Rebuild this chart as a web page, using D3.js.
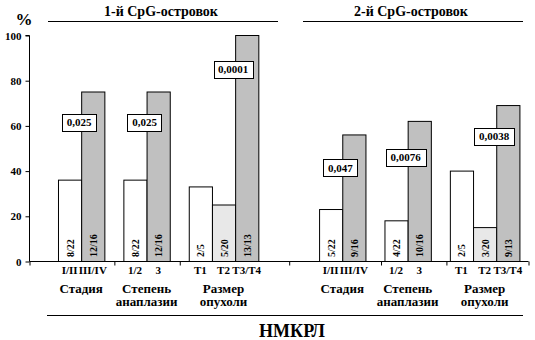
<!DOCTYPE html>
<html>
<head>
<meta charset="utf-8">
<script src="https://cdn.jsdelivr.net/npm/d3@7"></script>
<style>
  html, body { margin: 0; padding: 0; background: #fff; }
  svg { display: block; }
</style>
</head>
<body>
<svg id="chart" width="535" height="340"></svg>
<script>
// ---------- DATA ----------
const islands = ["1-й CpG-островок", "2-й CpG-островок"];
const groupNames = [["Стадия"], ["Степень", "анаплазии"], ["Размер", "опухоли"]];
const categories = [["I/II", "III/IV"], ["1/2", "3"], ["T1", "T2", "T3/T4"]];
const values1 = [[36, 75], [36, 75], [33, 25, 100]];
const values2 = [[23, 56], [18, 62], [40, 15, 69]];
const counts1 = [["8/22", "12/16"], ["8/22", "12/16"], ["2/5", "5/20", "13/13"]];
const counts2 = [["5/22", "9/16"], ["4/22", "10/16"], ["2/5", "3/20", "9/13"]];
const pvalues1 = ["0,025", "0,025", "0,0001"];
const pvalues2 = ["0,047", "0,0076", "0,0038"];
const pLabelAt1 = [61.5, 61.5, 84.7];   // value level of p-value box
const pLabelAt2 = [41.2, 45.8, 55.1];
const yTicks = [0, 20, 40, 60, 80, 100];
const yUnit = "%";
const bottomTitle = "НМКРЛ";

// ---------- LAYOUT ----------
const FONT = '"Liberation Serif", "Times New Roman", Times, serif';
const svg = d3.select("#chart");
const startPad = 1.25, gap = 0.82, halfGap = 2.62, endPad = 0.37;
const halves = [
  { title: islands[0], values: values1, counts: counts1, p: pvalues1, pAt: pLabelAt1 },
  { title: islands[1], values: values2, counts: counts2, p: pvalues2, pAt: pLabelAt2 }
];
const bars = [], groups = [];
let cur = startPad;
halves.forEach((h, hi) => {
  if (hi > 0) cur += halfGap;
  h.values.forEach((vals, gi) => {
    if (gi > 0) cur += gap;
    const g = { half: hi, gi, start: cur, n: vals.length, p: h.p[gi], pAt: h.pAt[gi] };
    vals.forEach((v, bi) => {
      bars.push({ half: hi, gi, bi, u: cur, value: v, count: h.counts[gi][bi], cat: categories[gi][bi], n: vals.length });
      cur += 1;
    });
    g.end = cur;
    groups.push(g);
  });
});
const totalUnits = cur + endPad;

const x = d3.scaleLinear().domain([0, totalUnits]).range([29, 528]);
const y = d3.scaleLinear().domain([0, 100]).range([261, 35]);
const bw = x(1) - x(0);

function fillFor(b) {
  if (b.bi === b.n - 1) return "#c0c0c0";
  if (b.bi === 1) return "#e8e8e8";
  return "#ffffff";
}
function txt(sel, size) {
  return sel.attr("font-family", FONT).attr("font-weight", "bold").attr("font-size", size).attr("fill", "#000");
}

// ---------- BARS ----------
svg.append("g").selectAll("rect").data(bars).join("rect")
  .attr("x", d => x(d.u) + 0.5)
  .attr("y", d => y(d.value) + 0.5)
  .attr("width", bw)
  .attr("height", d => y(0) - y(d.value))
  .attr("fill", fillFor)
  .attr("stroke", "#000")
  .attr("stroke-width", 1);

// counts inside bars (rotated)
txt(svg.append("g").selectAll("text").data(bars).join("text")
  .attr("transform", d => `translate(${x(d.u + 0.5) + 0.5},${y(0) - 4}) rotate(-90)`)
  .attr("dy", "0.35em")
  .attr("text-anchor", "start")
  .text(d => d.count), 10);

// ---------- AXES ----------
const yAxis = d3.axisLeft(y).tickValues(yTicks).tickSize(4).tickPadding(4).tickFormat(d3.format("d"));
const yg = svg.append("g").attr("transform", `translate(${x(0) + 0.5},0.5)`).call(yAxis);
yg.select(".domain").attr("d", `M-4,${y(100)}H0V${y(0)}`).attr("stroke", "#000");
yg.attr("font-family", null).attr("font-size", null);
txt(yg.selectAll("text"), 11);

// x axis: boundaries between groups
const boundaries = [0];
groups.forEach((g, i) => {
  if (i === 0) return;
  const prev = groups[i - 1];
  if (g.half !== prev.half || g.half === 0) boundaries.push((prev.end + g.start) / 2);
  else boundaries.push(g.start - 0.17);
});
boundaries.push(totalUnits);
const xAxis = d3.axisBottom(x).tickValues(boundaries).tickSize(4).tickFormat("");
const xg = svg.append("g").attr("transform", `translate(0.5,${y(0) + 0.5})`).call(xAxis);
xg.select(".domain").attr("d", `M${x(0)},0H${x(totalUnits)}`).attr("stroke", "#000");

// category labels
txt(svg.append("g").selectAll("text").data(bars).join("text")
  .attr("x", d => x(d.u + 0.5))
  .attr("y", 274)
  .attr("text-anchor", "middle")
  .text(d => d.cat), 11);

// group labels (one text per line)
const glines = [];
groups.forEach(g => groupNames[g.gi].forEach((s, li) => glines.push({ s, li, xc: x((g.start + g.end) / 2) })));
txt(svg.append("g").selectAll("text").data(glines).join("text")
  .attr("x", d => d.xc)
  .attr("y", d => 293 + d.li * 12.5)
  .attr("text-anchor", "middle")
  .text(d => d.s), 13);

// ---------- P-VALUE BOXES ----------
groups.forEach(g => {
  const cx = x(g.start + g.n - 1) - 2;
  const cy = y(g.pAt);
  const t = txt(svg.append("text")
    .attr("x", cx).attr("y", cy).attr("dy", "0.35em")
    .attr("text-anchor", "middle")
    .text(g.p), 11);
  const bb = t.node().getBBox();
  svg.insert("rect", () => t.node())
    .attr("x", Math.round(cx - bb.width / 2 - 4.5) + 0.5)
    .attr("y", Math.round(cy - 8.5) + 0.5)
    .attr("width", Math.round(bb.width + 9))
    .attr("height", 17)
    .attr("fill", "#fff")
    .attr("stroke", "#000");
});

// ---------- TITLES ----------
const titleLines = [[48, 278], [303, 523]];
halves.forEach((h, i) => {
  const [a, b] = titleLines[i];
  svg.append("line").attr("x1", a).attr("x2", b).attr("y1", 21.5).attr("y2", 21.5)
    .attr("stroke", "#000").attr("stroke-width", 1);
  txt(svg.append("text").attr("x", (a + b) / 2 - 2).attr("y", 16)
    .attr("text-anchor", "middle").text(h.title), 14);
});

txt(svg.append("text").attr("x", 24).attr("y", 25).attr("text-anchor", "middle").text(yUnit), 17);

svg.append("line").attr("x1", 47).attr("x2", 523).attr("y1", 315.5).attr("y2", 315.5)
  .attr("stroke", "#000");
txt(svg.append("text").attr("x", 292).attr("y", 337).attr("text-anchor", "middle").text(bottomTitle), 18);
</script>
</body>
</html>
